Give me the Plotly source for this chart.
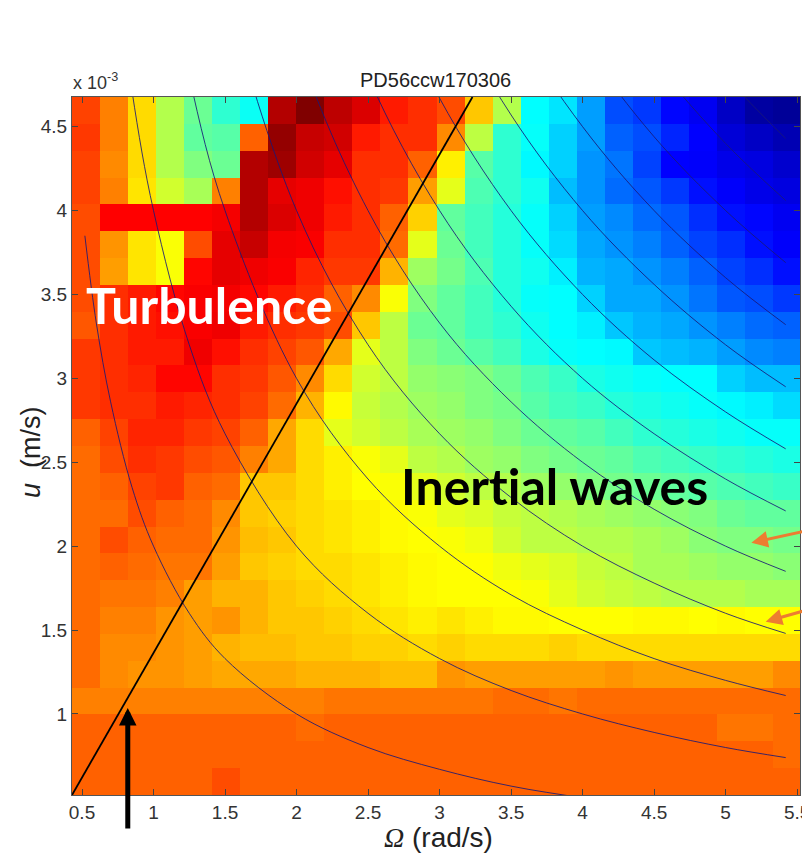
import plotly.graph_objects as go

omega = [0.528,0.724,0.92,1.116,1.312,1.508,1.704,1.9,2.096,2.292,2.488,2.684,2.88,3.076,3.272,3.468,3.664,3.86,4.056,4.252,4.448,4.644,4.84,5.036,5.232,5.428]
u_e3 = [0.597,0.757,0.917,1.077,1.237,1.397,1.557,1.717,1.877,2.037,2.197,2.357,2.517,2.677,2.837,2.997,3.157,3.317,3.477,3.637,3.797,3.957,4.117,4.277,4.437,4.597]

# rows listed from top (largest u) to bottom
rows_top_down = [
[.81,.75,.66,.55,.48,.42,.385,.95,1.0,.94,.91,.85,.83,.80,.68,.55,.375,.35,.28,.20,.18,.13,.11,.06,.02,.01],
[.82,.75,.66,.55,.47,.46,.78,.98,.93,.92,.85,.83,.83,.74,.56,.42,.38,.33,.28,.22,.20,.16,.125,.08,.06,.04],
[.81,.74,.66,.55,.50,.48,.95,.97,.92,.90,.83,.83,.78,.64,.46,.42,.37,.33,.27,.24,.19,.125,.12,.10,.09,.07],
[.81,.75,.65,.58,.54,.75,.95,.90,.89,.86,.83,.82,.72,.60,.45,.42,.39,.31,.27,.23,.21,.18,.14,.12,.10,.09],
[.80,.875,.875,.875,.875,.885,.95,.91,.89,.85,.83,.78,.67,.47,.44,.41,.38,.33,.28,.26,.23,.21,.17,.14,.13,.11],
[.80,.73,.65,.62,.80,.90,.93,.885,.88,.83,.83,.77,.60,.48,.44,.41,.38,.34,.29,.27,.25,.22,.19,.17,.14,.12],
[.80,.72,.65,.62,.87,.90,.89,.88,.84,.82,.82,.70,.53,.49,.45,.41,.39,.36,.30,.29,.27,.25,.22,.19,.17,.14],
[.80,.83,.85,.87,.88,.885,.87,.85,.83,.78,.74,.62,.50,.47,.44,.41,.38,.375,.33,.29,.29,.27,.24,.21,.20,.18],
[.79,.83,.85,.86,.88,.89,.85,.83,.82,.80,.68,.56,.48,.47,.44,.42,.39,.375,.36,.32,.30,.29,.27,.25,.23,.22],
[.82,.83,.85,.85,.89,.86,.83,.81,.79,.71,.60,.56,.50,.48,.46,.44,.40,.38,.375,.37,.32,.31,.30,.28,.26,.25],
[.82,.83,.84,.87,.87,.83,.82,.79,.74,.66,.58,.56,.52,.51,.50,.48,.45,.43,.40,.39,.38,.375,.375,.33,.31,.31],
[.82,.83,.83,.85,.84,.83,.81,.77,.70,.63,.57,.55,.53,.52,.50,.49,.46,.44,.43,.41,.40,.39,.38,.37,.36,.34],
[.78,.81,.84,.84,.82,.81,.78,.71,.66,.60,.58,.56,.54,.53,.52,.50,.48,.47,.46,.44,.42,.41,.40,.39,.38,.38],
[.77,.80,.83,.82,.80,.79,.75,.71,.66,.64,.62,.60,.56,.55,.53,.52,.50,.49,.48,.47,.45,.44,.43,.42,.41,.40],
[.77,.78,.81,.82,.78,.77,.68,.68,.66,.64,.625,.62,.60,.58,.56,.55,.53,.52,.50,.49,.48,.47,.46,.45,.44,.43],
[.77,.77,.80,.78,.77,.74,.68,.67,.66,.65,.64,.63,.62,.60,.59,.57,.56,.55,.54,.53,.52,.51,.50,.48,.47,.47],
[.77,.80,.78,.77,.77,.73,.69,.68,.66,.65,.64,.63,.625,.62,.61,.58,.56,.56,.55,.55,.54,.53,.51,.50,.50,.49],
[.77,.78,.77,.76,.76,.72,.68,.67,.66,.66,.65,.64,.63,.625,.625,.61,.60,.59,.57,.56,.54,.54,.53,.52,.52,.51],
[.77,.76,.76,.75,.72,.70,.70,.68,.67,.66,.65,.64,.63,.625,.625,.625,.62,.60,.58,.57,.56,.55,.55,.55,.54,.54],
[.77,.75,.75,.73,.72,.73,.70,.68,.68,.67,.66,.65,.64,.65,.64,.63,.63,.625,.625,.625,.63,.63,.625,.63,.625,.625],
[.77,.74,.74,.73,.72,.70,.69,.69,.68,.68,.67,.67,.66,.67,.66,.66,.66,.67,.66,.66,.66,.66,.66,.66,.66,.66],
[.77,.74,.73,.73,.72,.71,.71,.71,.70,.70,.70,.69,.69,.73,.72,.72,.72,.72,.72,.73,.72,.72,.72,.72,.72,.74],
[.75,.75,.75,.75,.75,.75,.75,.75,.75,.76,.76,.76,.76,.76,.76,.77,.77,.76,.77,.77,.77,.77,.77,.77,.77,.77],
[.78,.78,.78,.78,.78,.78,.78,.78,.77,.78,.78,.78,.78,.78,.78,.78,.78,.78,.78,.78,.78,.78,.78,.76,.76,.77],
[.78,.78,.78,.78,.78,.78,.78,.78,.78,.78,.78,.78,.78,.78,.78,.78,.78,.78,.78,.78,.78,.78,.78,.78,.78,.77],
[.78,.78,.78,.78,.78,.80,.78,.78,.78,.78,.78,.78,.78,.78,.78,.78,.78,.78,.78,.78,.78,.78,.78,.78,.78,.78],
]

curve_omega = [0.52,0.6,0.7,0.85,1.0,1.25,1.5,2.0,2.5,3.0,3.5,4.0,4.5,5.0,5.42]
curve_u = [
[3.85,3.33,2.86,2.35,2.0,1.6,1.33,1.0,0.8,0.67,0.57,0.5,0.44,0.4,0.37],
[7.69,6.67,5.71,4.71,4.0,3.2,2.67,2.0,1.6,1.33,1.14,1.0,0.89,0.8,0.74],
[11.5,10.0,8.57,7.06,6.0,4.8,4.0,3.0,2.4,2.0,1.71,1.5,1.33,1.2,1.11],
[15.4,13.3,11.4,9.41,8.0,6.4,5.33,4.0,3.2,2.67,2.29,2.0,1.78,1.6,1.48],
[19.2,16.7,14.3,11.8,10.0,8.0,6.67,5.0,4.0,3.33,2.86,2.5,2.22,2.0,1.85],
[23.1,20.0,17.1,14.1,12.0,9.6,8.0,6.0,4.8,4.0,3.43,3.0,2.67,2.4,2.21],
[26.9,23.3,20.0,16.5,14.0,11.2,9.33,7.0,5.6,4.67,4.0,3.5,3.11,2.8,2.58],
[30.8,26.7,22.9,18.8,16.0,12.8,10.7,8.0,6.4,5.33,4.57,4.0,3.56,3.2,2.95],
[34.6,30.0,25.7,21.2,18.0,14.4,12.0,9.0,7.2,6.0,5.14,4.5,4.0,3.6,3.32],
[38.5,33.3,28.6,23.5,20.0,16.0,13.3,10.0,8.0,6.67,5.71,5.0,4.44,4.0,3.69],
[42.3,36.7,31.4,25.9,22.0,17.6,14.7,11.0,8.8,7.33,6.29,5.5,4.89,4.4,4.06],
[46.2,40.0,34.3,28.2,24.0,19.2,16.0,12.0,9.6,8.0,6.86,6.0,5.33,4.8,4.43],
]

boundary_omega = [0.43, 3.23]
boundary_u = [0.517, 4.677]

x_ticks = [0.5,1,1.5,2,2.5,3,3.5,4,4.5,5,5.5]
x_labels = ["0.5","1","1.5","2","2.5","3","3.5","4","4.5","5","5.5"]
y_ticks = [1,1.5,2,2.5,3,3.5,4,4.5]
y_labels = ["1","1.5","2","2.5","3","3.5","4","4.5"]

title_text = "PD56ccw170306"

jet = [[0,"#00008f"],[0.125,"#0000ff"],[0.375,"#00ffff"],[0.625,"#ffff00"],[0.875,"#ff0000"],[1,"#800000"]]
TICK_FONT = dict(family="Liberation Sans", size=19, color="#333333")

# the page puts the figure 8 px in from its top-left corner
PAGE = 8
L, T, R, B = 72, 97, 800, 795

def px(x):
    return (x - L) / (R - L)

def py(y):
    return 1 - (y - T) / (B - T)

fig = go.Figure()
fig.add_trace(go.Heatmap(x=omega, y=u_e3, z=rows_top_down[::-1], colorscale=jet, zmin=0, zmax=1,
                         showscale=False, hoverinfo="skip"))
for cu in curve_u:
    fig.add_trace(go.Scatter(x=curve_omega, y=cu, mode="lines", showlegend=False, hoverinfo="skip",
                             line=dict(color="rgba(25,25,120,0.85)", width=1, shape="spline", smoothing=1.0)))
fig.add_trace(go.Scatter(x=boundary_omega, y=boundary_u, mode="lines", showlegend=False, hoverinfo="skip",
                         line=dict(color="black", width=1.8)))

annotations = [
    dict(x=px(209), y=py(305), xref="paper", yref="paper", xanchor="center", yanchor="middle",
         text="<b>Turbulence</b>", showarrow=False,
         font=dict(family="Lato", size=50, color="white")),
    dict(x=px(554), y=py(485), xref="paper", yref="paper", xanchor="center", yanchor="middle",
         text="<b>Iner<span style=\"font-size:50.2px\">t</span>ial waves</b>", showarrow=False,
         font=dict(family="Lato", size=50, color="black")),
    dict(x=0.82, y=1.036, xref="x", yref="y", ax=0, ay=122, axref="pixel", ayref="pixel", text="",
         showarrow=True, arrowhead=2, arrowsize=0.7, arrowwidth=5, arrowcolor="black", standoff=0),
    dict(x=5.18, y=2.02, xref="x", yref="y", ax=60, ay=-13, axref="pixel", ayref="pixel", text="",
         showarrow=True, arrowhead=2, arrowsize=1.1, arrowwidth=3, arrowcolor="#ED7D31", standoff=0),
    dict(x=5.28, y=1.55, xref="x", yref="y", ax=46, ay=-13, axref="pixel", ayref="pixel", text="",
         showarrow=True, arrowhead=2, arrowsize=1.1, arrowwidth=3, arrowcolor="#ED7D31", standoff=0),
    dict(x=px(71), y=py(82), xref="paper", yref="paper", xanchor="left", yanchor="middle", showarrow=False,
         text="x 10<sup>-3</sup>", font=dict(family="Liberation Sans", size=18, color="#333333")),
    dict(x=px(435), y=py(80), xref="paper", yref="paper", xanchor="center", yanchor="middle", showarrow=False,
         text=title_text, font=dict(family="Liberation Sans", size=20, color="#222222")),
    dict(x=px(438), y=py(837), xref="paper", yref="paper", xanchor="center", yanchor="middle", showarrow=False,
         text="<span style=\"font-family:'Liberation Serif'\"><i>\u03a9</i></span> (rad/s)",
         font=dict(family="Liberation Sans", size=28, color="#222222")),
    dict(x=px(31), y=py(452), xref="paper", yref="paper", xanchor="center", yanchor="middle", showarrow=False,
         textangle=-90, text="<i>u</i>  (m/s)", font=dict(family="Liberation Sans", size=27, color="#222222")),
]

fig.update_layout(
    width=810, height=853 - PAGE, autosize=False,
    margin=dict(l=L - PAGE, r=810 + PAGE - R, t=T - PAGE, b=853 - B, pad=0),
    paper_bgcolor="white", plot_bgcolor="white",
    annotations=annotations, showlegend=False,
    xaxis=dict(range=[0.43,5.52], tickvals=x_ticks, ticktext=x_labels, ticks="inside", ticklen=6, tickcolor="#444",
               showline=True, mirror="ticks", linecolor="#555", linewidth=1, showgrid=False, zeroline=False,
               tickfont=TICK_FONT, automargin=False, ticklabeloverflow="allow"),
    yaxis=dict(range=[0.517,4.677], tickvals=y_ticks, ticktext=y_labels, ticks="inside", ticklen=6, tickcolor="#444",
               showline=True, mirror="ticks", linecolor="#555", linewidth=1, showgrid=False, zeroline=False,
               tickfont=TICK_FONT, automargin=False),
)
fig.write_html("out.html", post_script="document.documentElement.style.overflow='hidden';document.body.style.overflow='hidden';")
